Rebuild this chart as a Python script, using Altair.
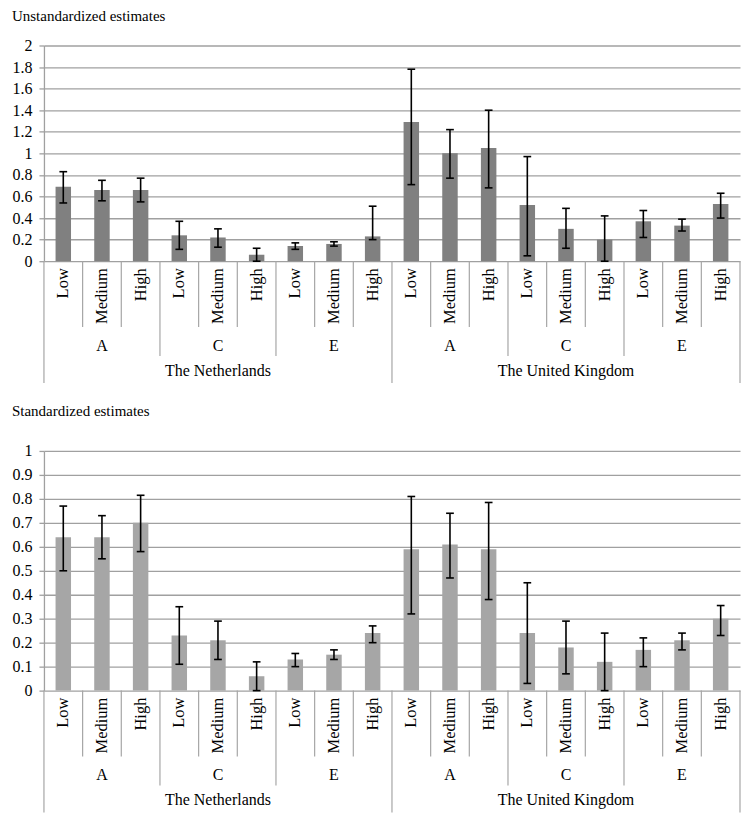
import altair as alt
import pandas as pd

# ---- data ----
countries = ["The Netherlands"] * 9 + ["The United Kingdom"] * 9
traits = ["A", "A", "A", "C", "C", "C", "E", "E", "E"] * 2
levels = ["Low", "Medium", "High"] * 6

unstd_est = [0.69, 0.66, 0.66, 0.24, 0.22, 0.06, 0.14, 0.16, 0.23,
             1.29, 1.00, 1.05, 0.52, 0.30, 0.20, 0.37, 0.33, 0.53]
unstd_lo = [0.54, 0.56, 0.55, 0.11, 0.13, 0.00, 0.11, 0.14, 0.20,
            0.71, 0.77, 0.68, 0.05, 0.12, 0.00, 0.22, 0.28, 0.40]
unstd_hi = [0.83, 0.75, 0.77, 0.37, 0.30, 0.12, 0.17, 0.18, 0.51,
            1.78, 1.22, 1.40, 0.97, 0.49, 0.42, 0.47, 0.39, 0.63]

std_est = [0.64, 0.64, 0.70, 0.23, 0.21, 0.06, 0.13, 0.15, 0.24,
           0.59, 0.61, 0.59, 0.24, 0.18, 0.12, 0.17, 0.21, 0.30]
std_lo = [0.50, 0.55, 0.58, 0.11, 0.13, 0.00, 0.10, 0.13, 0.20,
          0.32, 0.47, 0.38, 0.03, 0.07, 0.00, 0.10, 0.17, 0.23]
std_hi = [0.77, 0.73, 0.815, 0.35, 0.29, 0.12, 0.155, 0.17, 0.27,
          0.81, 0.74, 0.785, 0.45, 0.29, 0.24, 0.22, 0.24, 0.355]

unstd_ticks = [0, 0.2, 0.4, 0.6, 0.8, 1, 1.2, 1.4, 1.6, 1.8, 2]
std_ticks = [0, 0.1, 0.2, 0.3, 0.4, 0.5, 0.6, 0.7, 0.8, 0.9, 1]

FONT = "'Liberation Serif', 'Times New Roman', Times, serif"
GRID = "#a0a0a0"
SEP = "#a6a6a6"
W = 697


def build_df(est, lo, hi):
    n = len(est)
    df = pd.DataFrame({
        "idx": list(range(n)), "country": countries, "trait": traits,
        "level": levels, "est": est, "lo": lo, "hi": hi,
    })
    df["xc"] = df["idx"] + 0.5
    df["b0"] = df["idx"] + 0.3
    df["b1"] = df["idx"] + 0.7
    df["c0"] = df["idx"] + 0.4
    df["c1"] = df["idx"] + 0.6
    return df


def build_seps(n):
    pos = list(range(n + 1))
    kind = ["country" if p % 9 == 0 else ("trait" if p % 3 == 0 else "level") for p in pos]
    return pd.DataFrame({"pos": pos, "kind": kind})


def panel(est, lo, hi, title, ymax, ticks, color, h, toff):
    df = build_df(est, lo, hi)
    n = len(df)
    seps = build_seps(n)
    xs = alt.Scale(domain=[0, n], nice=False, zero=False)
    ys = alt.Scale(domain=[0, ymax], nice=False)
    base = alt.Chart(df)

    bars = base.mark_bar(color=color).encode(
        x=alt.X("b0:Q", scale=xs, axis=None),
        x2="b1:Q",
        y=alt.Y("est:Q", scale=ys, title=None,
                axis=alt.Axis(values=ticks, tickCount=len(ticks) + 5, format="~g",
                              grid=True, gridColor=GRID,
                              gridWidth=1.3, domainColor=GRID, domainWidth=1.3,
                              tickColor=GRID, tickSize=5, tickWidth=1.3,
                              labelOverlap=False, labelFont=FONT, labelFontSize=16,
                              labelColor="black", labelPadding=7)),
        y2=alt.datum(0),
    )
    whisk = base.mark_rule(color="black", strokeWidth=1.6).encode(
        x=alt.X("xc:Q", scale=xs, axis=None),
        y=alt.Y("lo:Q", scale=ys, title=None), y2="hi:Q")
    cap_lo = base.mark_rule(color="black", strokeWidth=1.6).encode(
        x=alt.X("c0:Q", scale=xs, axis=None), x2="c1:Q",
        y=alt.Y("lo:Q", scale=ys, title=None))
    cap_hi = base.mark_rule(color="black", strokeWidth=1.6).encode(
        x=alt.X("c0:Q", scale=xs, axis=None), x2="c1:Q",
        y=alt.Y("hi:Q", scale=ys, title=None))

    level_txt = base.mark_text(font=FONT, fontSize=16.5, angle=270, align="right",
                               baseline="middle", color="black").encode(
        x=alt.X("xc:Q", scale=xs, axis=None), y=alt.value(h + 7), text="level:N")
    trait_txt = base.transform_aggregate(
        xm="mean(xc)", groupby=["country", "trait"]
    ).mark_text(font=FONT, fontSize=16, baseline="middle", color="black").encode(
        x=alt.X("xm:Q", scale=xs, axis=None), y=alt.value(h + 85), text="trait:N")
    country_txt = base.transform_aggregate(
        xm="mean(xc)", groupby=["country"]
    ).mark_text(font=FONT, fontSize=16, baseline="middle", color="black").encode(
        x=alt.X("xm:Q", scale=xs, axis=None), y=alt.value(h + 110), text="country:N")

    sep_layers = []
    for kind, depth in [("level", 66), ("trait", 95), ("country", 122)]:
        sep_layers.append(
            alt.Chart(seps[seps["kind"] == kind]).mark_rule(color=SEP, strokeWidth=1.2).encode(
                x=alt.X("pos:Q", scale=xs, axis=None),
                y=alt.value(h), y2=alt.value(h + depth))
        )

    return alt.layer(bars, whisk, cap_lo, cap_hi, *sep_layers, level_txt, trait_txt,
                     country_txt).properties(
        width=W, height=h,
        title=alt.TitleParams(text=title, anchor="start", font=FONT, fontSize=15,
                              fontWeight="normal", color="black", offset=toff),
    )


top = panel(unstd_est, unstd_lo, unstd_hi, "Unstandardized estimates", 2, unstd_ticks,
            "#808080", 216, 14)
bottom = panel(std_est, std_lo, std_hi, "Standardized estimates", 1, std_ticks,
               "#a6a6a6", 240, 24)

chart = alt.vconcat(top, bottom, spacing=20).properties(
    padding={"left": 4, "top": 0, "right": 0, "bottom": 0}
).configure_view(stroke=None)

chart.save("out.html", embed_options={"renderer": "svg", "actions": False})
